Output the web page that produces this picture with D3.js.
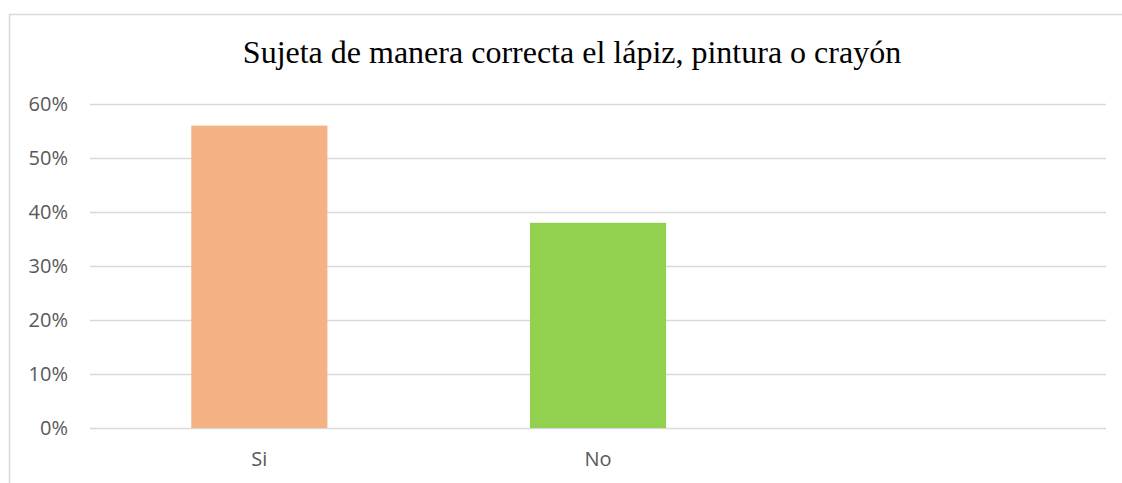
<!DOCTYPE html>
<html>
<head>
<meta charset="utf-8">
<script src="https://cdn.jsdelivr.net/npm/d3@7"></script>
<style>
  html, body { margin: 0; padding: 0; background: #fff; }
  svg { display: block; }
</style>
</head>
<body>
<svg id="chart" width="1122" height="483"></svg>
<script>
const title = "Sujeta de manera correcta el lápiz, pintura o crayón";
const categories = ["Si", "No", ""];
const values = [0.56, 0.38, null];
const barColors = ["#F4B183", "#92D050", "#FFFFFF"];
const yTicks = [0, 0.1, 0.2, 0.3, 0.4, 0.5, 0.6];

const svg = d3.select("#chart");
const W = 1122, H = 483;
const margin = { left: 90, right: 16, top: 104, bottom: 55 };
const plotW = W - margin.left - margin.right; // 1016
const plotH = H - margin.top - margin.bottom; // ~324

// chart border (extends beyond right/bottom edges)
svg.append("rect")
  .attr("x", 9.5).attr("y", 14.5)
  .attr("width", 1140).attr("height", 500)
  .attr("fill", "#fff")
  .attr("stroke", "#d9d9d9")
  .attr("stroke-width", 1.5);

const x = d3.scaleBand().domain(categories.map((c, i) => i)).range([margin.left, margin.left + plotW]).paddingInner(0.598).paddingOuter(0.299);
const y = d3.scaleLinear().domain([0, 0.6]).range([margin.top + plotH, margin.top]);

// gridlines
const yAxis = d3.axisLeft(y).tickValues(yTicks).tickFormat(d3.format(".0%")).tickSize(-plotW).tickPadding(22);
const gy = svg.append("g").attr("transform", `translate(${margin.left},0)`).call(yAxis);
gy.select(".domain").remove();
gy.selectAll(".tick line").attr("stroke", "#d9d9d9").attr("stroke-width", 1.3);
gy.selectAll(".tick text")
  .attr("fill", "#595959")
  .style("font-family", "'Open Sans', sans-serif")
  .style("font-size", "20px");

// bars
svg.append("g").selectAll("rect")
  .data(values.map((v, i) => ({ v, i })).filter(d => d.v != null))
  .join("rect")
  .attr("x", d => x(d.i))
  .attr("width", x.bandwidth())
  .attr("y", d => y(d.v))
  .attr("height", d => y(0) - y(d.v))
  .attr("fill", d => barColors[d.i]);

// category labels
const xAxis = d3.axisBottom(x).tickFormat(i => categories[i]).tickSize(0).tickPadding(24);
const gx = svg.append("g").attr("transform", `translate(0,${y(0)})`).call(xAxis);
gx.select(".domain").remove();
gx.selectAll(".tick text")
  .attr("fill", "#595959")
  .style("font-family", "'Open Sans', sans-serif")
  .style("font-size", "20px");

// title
svg.append("text")
  .attr("x", 572).attr("y", 63)
  .attr("text-anchor", "middle")
  .attr("fill", "#000")
  .style("font-family", "'Liberation Serif', 'Times New Roman', serif")
  .style("font-size", "32px")
  .text(title);
</script>
</body>
</html>
